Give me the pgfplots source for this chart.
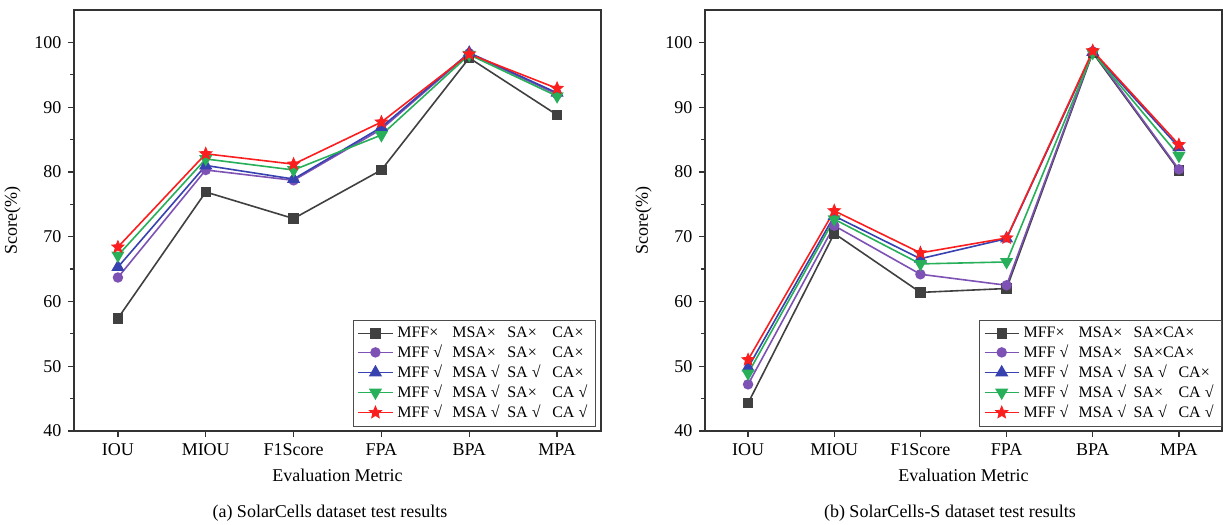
\documentclass[border=0pt]{standalone}
\usepackage{fontspec}
\setmainfont{Liberation Serif}
\usepackage{pgfplots}
\pgfplotsset{compat=1.18}

\definecolor{cK}{RGB}{64,64,64}
\definecolor{cP}{RGB}{125,82,180}
\definecolor{cB}{RGB}{55,65,175}
\definecolor{cG}{RGB}{40,175,90}
\definecolor{cR}{RGB}{250,30,30}

% filled five-pointed star
\pgfdeclareplotmark{fstar}{%
  \pgfpathmoveto{\pgfqpointpolar{90}{\pgfplotmarksize}}%
  \pgfpathlineto{\pgfqpointpolar{126}{0.45\pgfplotmarksize}}%
  \pgfpathlineto{\pgfqpointpolar{162}{\pgfplotmarksize}}%
  \pgfpathlineto{\pgfqpointpolar{198}{0.45\pgfplotmarksize}}%
  \pgfpathlineto{\pgfqpointpolar{234}{\pgfplotmarksize}}%
  \pgfpathlineto{\pgfqpointpolar{270}{0.45\pgfplotmarksize}}%
  \pgfpathlineto{\pgfqpointpolar{306}{\pgfplotmarksize}}%
  \pgfpathlineto{\pgfqpointpolar{342}{0.45\pgfplotmarksize}}%
  \pgfpathlineto{\pgfqpointpolar{18}{\pgfplotmarksize}}%
  \pgfpathlineto{\pgfqpointpolar{54}{0.45\pgfplotmarksize}}%
  \pgfpathclose
  \pgfusepathqfillstroke
}

\newcommand{\cA}[1]{\makebox[27.5pt][l]{#1}}
\newcommand{\cC}[1]{\makebox[22.5pt][l]{#1}}

\pgfplotsset{
  base/.style={
    scale only axis,
    height=210.5pt,
    xmin=-0.5, xmax=5.5,
    ymin=40, ymax=105,
    xtick={0,...,5},
    xticklabels={IOU,MIOU,F1Score,FPA,BPA,MPA},
    ytick={40,50,...,100},
    minor y tick num=1,
    tick align=outside,
    xtick pos=bottom, ytick pos=left,
    major tick length=2.8pt, minor tick length=1.8pt,
    axis line style={draw=black!80, line width=0.6pt},
    every tick/.style={black!80, line width=0.6pt},
    tick label style={font=\fontsize{9}{10}\selectfont},
    /pgf/number format/assume math mode=true,
    label style={font=\fontsize{9}{10}\selectfont},
    xlabel={Evaluation Metric},
    ylabel={Score(\%)},
    legend cell align=left,
    legend style={font=\fontsize{8}{9}\selectfont, draw=black!70,
      inner xsep=2pt, inner ysep=1pt, row sep=-1.8pt},
    every axis plot/.append style={line width=0.8pt},
  },
  sK/.style={color=cK, mark=square*, mark size=2.2pt},
  sP/.style={color=cP, mark=*, mark size=2.2pt},
  sB/.style={color=cB, mark=triangle*, mark size=3pt},
  sG/.style={color=cG, mark=triangle*, mark size=3pt, mark options={rotate=180}},
  sR/.style={color=cR, mark=fstar, mark size=3.2pt, mark options={fill=cR, line width=0.4pt}},
}

\begin{document}
\begin{tikzpicture}
\begin{axis}[base, name=a, width=263.5pt,
  legend style={at={(0.99,0.01)}, anchor=south east}]
\addplot[sK] coordinates {(0,57.4) (1,76.9) (2,72.8) (3,80.3) (4,97.6) (5,88.8)};
\addlegendentry{\cA{MFF×}\cA{MSA×}\cC{SA×}CA×}
\addplot[sP] coordinates {(0,63.7) (1,80.3) (2,78.7) (3,86.6) (4,98.3) (5,92.0)};
\addlegendentry{\cA{MFF √}\cA{MSA×}\cC{SA×}CA×}
\addplot[sB] coordinates {(0,65.3) (1,81.0) (2,78.9) (3,86.9) (4,98.4) (5,92.2)};
\addlegendentry{\cA{MFF √}\cA{MSA √}\cC{SA √}CA×}
\addplot[sG] coordinates {(0,67.1) (1,82.0) (2,80.3) (3,85.7) (4,98.1) (5,91.7)};
\addlegendentry{\cA{MFF √}\cA{MSA √}\cC{SA×}CA √}
\addplot[sR] coordinates {(0,68.4) (1,82.8) (2,81.2) (3,87.7) (4,98.2) (5,92.9)};
\addlegendentry{\cA{MFF √}\cA{MSA √}\cC{SA √}CA √}
\end{axis}

\begin{axis}[base, name=b, at={(315.5pt,0pt)}, width=258.5pt,
  legend style={at={(1,0.01)}, anchor=south east}]
\addplot[sK] coordinates {(0,44.3) (1,70.5) (2,61.4) (3,62.0) (4,98.4) (5,80.2)};
\addlegendentry{\cA{MFF×}\cA{MSA×}SA×CA×}
\addplot[sP] coordinates {(0,47.2) (1,71.7) (2,64.2) (3,62.5) (4,98.6) (5,80.4)};
\addlegendentry{\cA{MFF √}\cA{MSA×}SA×CA×}
\addplot[sB] coordinates {(0,49.8) (1,73.2) (2,66.6) (3,69.7) (4,98.5) (5,83.8)};
\addlegendentry{\cA{MFF √}\cA{MSA √}\cC{SA √}CA×}
\addplot[sG] coordinates {(0,48.9) (1,72.7) (2,65.8) (3,66.1) (4,98.4) (5,82.5)};
\addlegendentry{\cA{MFF √}\cA{MSA √}\cC{SA×}CA √}
\addplot[sR] coordinates {(0,51.0) (1,74.0) (2,67.5) (3,69.8) (4,98.7) (5,84.2)};
\addlegendentry{\cA{MFF √}\cA{MSA √}\cC{SA √}CA √}
\end{axis}

\node[anchor=base, font=\fontsize{9}{10}\selectfont] at (128pt,-43.5pt) {(a) SolarCells dataset test results};
\node[anchor=base, font=\fontsize{9}{10}\selectfont] at (438pt,-43.5pt) {(b) SolarCells-S dataset test results};

\pgfresetboundingbox
\path (-37pt,-47pt) rectangle (574.5pt,215.5pt);
\end{tikzpicture}
\end{document}
